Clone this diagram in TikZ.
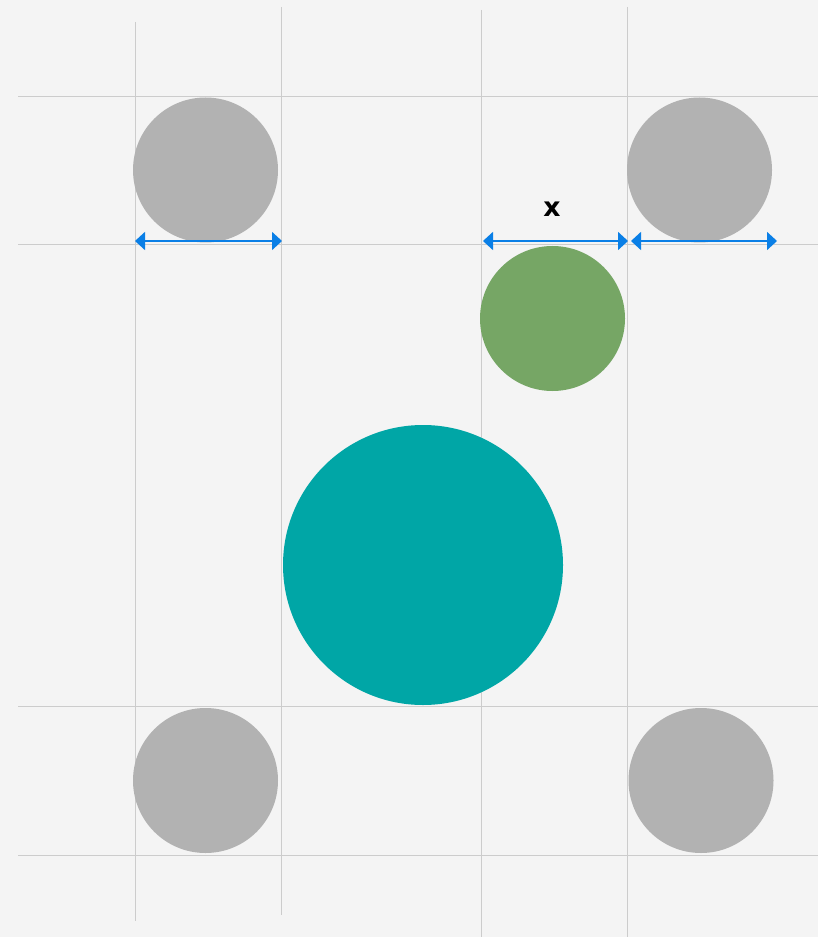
\documentclass[tikz,border=0pt]{standalone}
\usepackage{fontspec}
\setsansfont{DejaVu Sans}
\usetikzlibrary{arrows.meta,positioning}
\definecolor{bgcol}{HTML}{F4F4F4}
\definecolor{gridcol}{HTML}{CCCCCC}
\definecolor{dotcol}{HTML}{B2B2B2}
\definecolor{greencol}{HTML}{76A665}
\definecolor{tealcol}{HTML}{00A6A6}
\definecolor{arrcol}{HTML}{0A7FE6}

\begin{document}
\begin{tikzpicture}[x=0.75pt,y=-0.75pt,semithick]
  \tikzstyle{guide}=[draw=gridcol,line width=0.75pt]
  \tikzstyle{dot}=[circle,inner sep=0pt,minimum size=108.75pt,fill=dotcol]
  \tikzstyle{measure}=[draw=arrcol,line width=1.2pt,{Triangle[width=13.5pt,length=7.5pt]}-{Triangle[width=13.5pt,length=7.5pt]}]
\fill[bgcol] (0,0) rectangle (818,937);
\useasboundingbox (0,0) rectangle (818,937);
% guide lines
\draw[guide] (135.5,22) -- (135.5,921);
\draw[guide] (281.5,7) -- (281.5,915);
\draw[guide] (481,10) -- (481,937);
\draw[guide] (627,7) -- (627,937);
\foreach \y in {97,245,706,855}
  \draw[guide] (18,\y) -- (818,\y);
% circles
\node[dot] (tl) at (205.5,170) {};
\node[dot] (tr) at (699.5,170) {};
\node[dot] (bl) at (205.5,780.5) {};
\node[dot] (br) at (701,780.5) {};
\node[dot,fill=greencol] (mid) at (552.5,318.5) {};
\node[circle,inner sep=0pt,minimum size=210pt,fill=tealcol] (big) at (423,565) {};
% measures
\coordinate (a1) at (135,241);
\coordinate (a2) at (282,241);
\coordinate (b1) at (483,241);
\coordinate (b2) at (628,241);
\coordinate (c1) at (631,241);
\coordinate (c2) at (777,241);
\draw[measure] (a1) -- (a2);
\draw[measure] (b1) -- (b2);
\draw[measure] (c1) -- (c2);
\node[font=\sffamily\bfseries\fontsize{20}{24}\selectfont,inner sep=0pt] (lbl) at (552,209) {x};
\end{tikzpicture}
\end{document}
